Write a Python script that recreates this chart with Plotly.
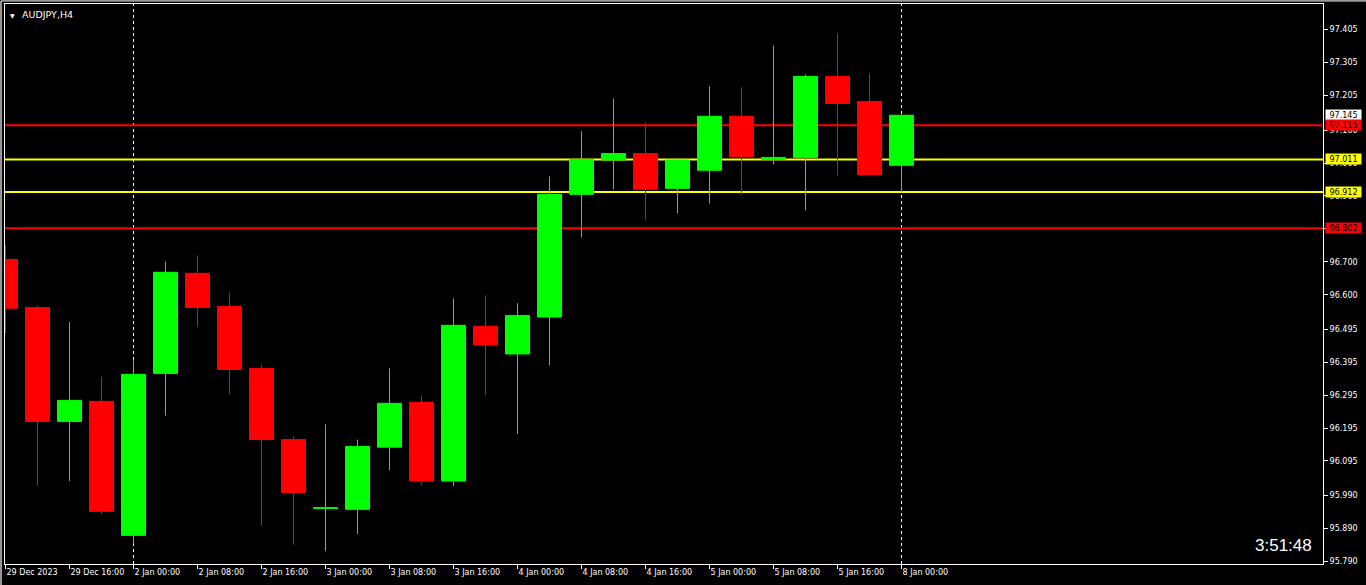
import plotly.graph_objects as go

# ── Data (AUDJPY, H4) ──────────────────────────────────────────────────────────

bar_index = list(range(29))

opens = [96.707, 96.561, 96.215, 96.276, 95.869, 96.361, 96.665, 96.564, 96.376, 96.160,
         95.951, 95.948, 96.137, 96.273, 96.034, 96.504, 96.420, 96.532, 96.905, 97.009,
         97.029, 96.923, 96.978, 97.142, 97.011, 97.017, 97.263, 97.187, 96.993]
highs = [96.750, 96.567, 96.517, 96.350, 96.403, 96.701, 96.719, 96.607, 96.388, 96.170,
         96.206, 96.160, 96.376, 96.294, 96.589, 96.598, 96.574, 96.959, 97.096, 97.196,
         97.123, 97.015, 97.233, 97.230, 97.357, 97.269, 97.394, 97.272, 97.147]
lows = [96.483, 96.021, 96.034, 95.934, 95.844, 96.233, 96.502, 96.297, 95.899, 95.841,
        95.821, 95.873, 96.067, 96.022, 96.019, 96.295, 96.177, 96.386, 96.774, 96.920,
        96.826, 96.847, 96.877, 96.905, 96.996, 96.856, 96.962, 96.965, 96.911]
closes = [96.559, 96.215, 96.279, 95.942, 96.358, 96.668, 96.561, 96.373, 96.160, 95.999,
          95.953, 96.139, 96.270, 96.034, 96.507, 96.447, 96.537, 96.905, 97.011, 97.029,
          96.920, 97.009, 97.142, 97.020, 97.017, 97.263, 97.181, 96.965, 97.145]

time_tick_pos = [0, 2, 4, 6, 8, 10, 12, 14, 16, 18, 20, 22, 24, 26, 28]
time_tick_text = ["29 Dec 2023", "29 Dec 16:00", "2 Jan 00:00", "2 Jan 08:00", "2 Jan 16:00",
                  "3 Jan 00:00", "3 Jan 08:00", "3 Jan 16:00", "4 Jan 00:00", "4 Jan 08:00",
                  "4 Jan 16:00", "5 Jan 00:00", "5 Jan 08:00", "5 Jan 16:00", "8 Jan 00:00"]

price_ticks = [97.405, 97.305, 97.205, 97.100, 97.000, 96.900, 96.800, 96.700, 96.600,
               96.495, 96.395, 96.295, 96.195, 96.095, 95.990, 95.890, 95.790]

week_separators = [4, 28]

level_prices = [97.115, 97.011, 96.912, 96.802]
level_colors = ["#ff0000", "#ffff00", "#ffff00", "#ff0000"]

bid_price = 97.145
countdown = "3:51:48"
symbol_label = "AUDJPY,H4"

BULL = "#00ff00"
BEAR = "#ff0000"
FONT = "DejaVu Sans"

# ── Figure ─────────────────────────────────────────────────────────────────────

fig = go.Figure(
    go.Candlestick(
        x=bar_index,
        open=opens,
        high=highs,
        low=lows,
        close=closes,
        increasing=dict(line=dict(color=BULL, width=1), fillcolor=BULL),
        decreasing=dict(line=dict(color=BEAR, width=1), fillcolor=BEAR),
        whiskerwidth=0,
        showlegend=False,
        hoverinfo="skip",
    )
)

# period separators (behind candles)
for xs in week_separators:
    fig.add_shape(
        type="line", xref="x", yref="paper", x0=xs, x1=xs, y0=0, y1=1,
        line=dict(color="white", width=1, dash="3px,3px"), layer="below",
    )

# horizontal levels
for p, c in zip(level_prices, level_colors):
    fig.add_shape(
        type="line", xref="paper", yref="y", x0=0, x1=1, y0=p, y1=p,
        line=dict(color=c, width=2), layer="below",
    )

# price labels on the right scale
def price_box(value, bg):
    fig.add_annotation(
        xref="paper", yref="y", x=1, y=value, xanchor="left", yanchor="middle",
        xshift=2, text=f"{value:.3f}", showarrow=False, bgcolor=bg,
        font=dict(family=FONT, size=8, color="black"),
        width=35, height=10, borderpad=0, align="center",
    )

price_box(bid_price, "white")
for p, c in zip(level_prices, level_colors):
    price_box(p, c)

# symbol label
fig.add_annotation(
    xref="paper", yref="paper", x=0, y=1, xanchor="left", yanchor="top",
    xshift=3, yshift=-6, text="▼", showarrow=False,
    font=dict(family=FONT, size=6, color="white"),
)
fig.add_annotation(
    xref="paper", yref="paper", x=0, y=1, xanchor="left", yanchor="top",
    xshift=15, yshift=-3, text=symbol_label, showarrow=False,
    font=dict(family=FONT, size=9.5, color="white"),
)

# bar countdown
fig.add_annotation(
    xref="paper", yref="paper", x=1, y=0, xanchor="right", yanchor="middle",
    xshift=-9, yshift=19, text=countdown, showarrow=False,
    font=dict(family="Liberation Sans", size=17, color="white"),
)

# outer grey border
fig.add_shape(type="line", xref="paper", yref="paper", x0=-0.003, x1=-0.003, y0=-0.04, y1=1.006,
              line=dict(color="#9a9a9a", width=2))
fig.add_shape(type="line", xref="paper", yref="paper", x0=-0.003, x1=1.033, y0=1.006, y1=1.006,
              line=dict(color="#9a9a9a", width=2))

fig.update_layout(
    width=1366,
    height=585,
    margin=dict(l=5, r=43, t=4, b=21),
    paper_bgcolor="black",
    plot_bgcolor="black",
    boxgap=0.25,
    boxgroupgap=0,
    showlegend=False,
    xaxis=dict(
        range=[-0.0156, 41.172],
        rangeslider=dict(visible=False),
        showgrid=False, zeroline=False,
        showline=True, linecolor="white", linewidth=1, mirror=True,
        tickmode="array", tickvals=time_tick_pos, ticktext=time_tick_text,
        ticks="outside", ticklen=4, tickcolor="white",
        ticklabelposition="outside right",
        tickfont=dict(family=FONT, size=8, color="white"),
    ),
    yaxis=dict(
        side="right",
        range=[95.782, 97.483],
        showgrid=False, zeroline=False,
        showline=True, linecolor="white", linewidth=1, mirror=True,
        tickmode="array", tickvals=price_ticks,
        ticktext=[f"{v:.3f}" for v in price_ticks],
        ticks="outside", ticklen=4, tickcolor="white",
        tickfont=dict(family=FONT, size=8, color="white"),
    ),
)

fig.write_html(
    "out.html",
    config={"displayModeBar": False},
    post_script="document.body.style.margin='0';document.body.style.overflow='hidden';",
)
